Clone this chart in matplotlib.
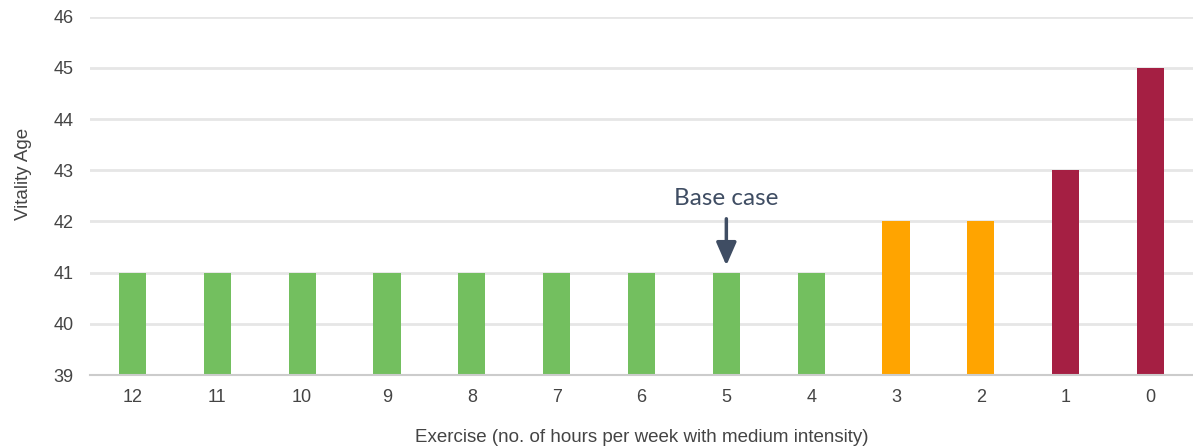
import matplotlib.pyplot as plt

# Vitality age by weekly exercise hours
hours = ['12', '11', '10', '9', '8', '7', '6', '5', '4', '3', '2', '1', '0']
vitality_age = [41, 41, 41, 41, 41, 41, 41, 41, 41, 42, 42, 43, 45]
bar_colors = ['#73BF5F'] * 9 + ['#FFA400'] * 2 + ['#A51F43'] * 2

plt.rcParams['font.family'] = ['Liberation Sans', 'DejaVu Sans']

fig = plt.figure(figsize=(11.93, 4.48), dpi=100)
ax = fig.add_axes([90 / 1193, 1 - 375 / 448, 1 - 90 / 1193, (375 - 16.7) / 448])

x = range(len(hours))
ax.bar(x, [v - 39 for v in vitality_age], bottom=39, width=0.32, color=bar_colors, zorder=3)

ax.set_xlim(-0.5, len(hours) - 0.5)
ax.set_ylim(39, 46)
ax.set_yticks(range(39, 47))
ax.set_xticks(list(x))
ax.set_xticklabels(hours)
ax.grid(axis='y', color='#E6E6E6', linewidth=2, zorder=0)
ax.tick_params(length=0, labelsize=13, labelcolor='#444444', pad=10)
ax.tick_params(axis='y', pad=12)
for side in ['top', 'right', 'left']:
    ax.spines[side].set_visible(False)
ax.spines['bottom'].set_color('#CCCCCC')
ax.spines['bottom'].set_linewidth(1.5)
ax.spines['bottom'].set_zorder(4)

ax.set_xlabel('Exercise (no. of hours per week with medium intensity)', fontsize=13.5, color='#444444', labelpad=17)
ax.set_ylabel('Vitality Age', fontsize=13.5, color='#444444')
ax.yaxis.set_label_coords(-0.053, 0.561)

# Mark the base case at 5 hours
base = hours.index('5')
ax.annotate('Base case', xy=(base, vitality_age[base] + 0.14), xytext=(base, 42.32),
            ha='center', va='baseline', fontsize=17.5, color='#3F4D63', family=['Lato', 'DejaVu Sans'],
            arrowprops=dict(arrowstyle='-|>,head_width=0.35,head_length=0.8', color='#3F4D63',
                            lw=2.5, shrinkA=5, shrinkB=0))

fig.savefig('out.png', dpi=100)
